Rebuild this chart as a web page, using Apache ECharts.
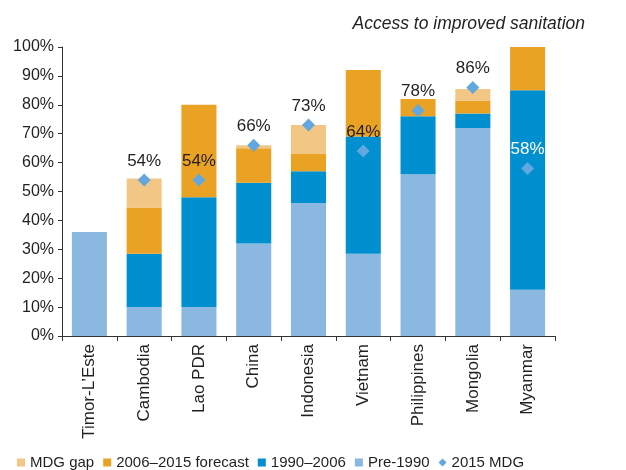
<!DOCTYPE html>
<html>
<head>
<meta charset="utf-8">
<script src="https://cdn.jsdelivr.net/npm/echarts@6/dist/echarts.min.js"></script>
<style>
  html, body { margin: 0; padding: 0; background: #fff; }
  #chart { width: 626px; height: 470px; }
</style>
</head>
<body>
<div id="chart"></div>
<script>
// Share of population with access to improved sanitation (%)
const countries = ['Timor-L\u2019Este', 'Cambodia', 'Lao PDR', 'China', 'Indonesia', 'Vietnam', 'Philippines', 'Mongolia', 'Myanmar'];
const pre1990   = [36, 10, 10, 32, 46, 28.5, 56, 72, 16];
const gain19902006 = [0, 18.5, 38, 21, 11, 40.5, 20, 5, 69];
const forecast20062015 = [0, 16, 32, 12, 6, 23, 6, 4.5, 15];
const mdgGap    = [0, 10, 0, 1, 10, 0, 0, 4, 0];
const mdgTarget = [null, 54, 54, 66, 73, 64, 78, 86, 58];
const yTicks = [0, 10, 20, 30, 40, 50, 60, 70, 80, 90, 100];

const FONT = 'Liberation Sans, Arial, sans-serif';
const TEXT = '#231f20';

const chart = echarts.init(document.getElementById('chart'), null, { renderer: 'canvas' });

const barBase = { type: 'bar', stack: 'access', barCategoryGap: '36%' };

chart.setOption({
  animation: false,
  textStyle: { fontFamily: FONT },
  title: {
    text: 'Access to improved sanitation',
    right: 36, top: 10,
    textStyle: { fontFamily: FONT, fontSize: 17.5, fontStyle: 'italic', fontWeight: 'normal', color: TEXT }
  },
  legend: {
    left: 12, top: 450,
    itemWidth: 8, itemHeight: 8, itemGap: 9,
    textStyle: { fontFamily: FONT, fontSize: 15, color: TEXT },
    data: [
      { name: 'MDG gap', icon: 'rect' },
      { name: '2006\u20132015 forecast', icon: 'rect' },
      { name: '1990\u20132006', icon: 'rect' },
      { name: 'Pre-1990', icon: 'rect' },
      { name: '2015 MDG', icon: 'diamond' }
    ]
  },
  grid: { left: 62, right: 71, top: 47, bottom: 134 },
  xAxis: {
    type: 'category',
    data: countries,
    axisLine: { lineStyle: { color: '#333', width: 1 } },
    axisTick: { show: true, length: 5, lineStyle: { color: '#333' } },
    axisLabel: { rotate: 90, fontSize: 17, color: TEXT, fontFamily: FONT, margin: 8 }
  },
  yAxis: {
    type: 'value',
    min: 0, max: 100, interval: 10,
    axisLine: { show: true, lineStyle: { color: '#333', width: 1 } },
    axisTick: { show: true, length: 4, lineStyle: { color: '#333' } },
    splitLine: { show: false },
    axisLabel: {
      fontSize: 16, color: TEXT, fontFamily: FONT, margin: 8,
      formatter: v => (yTicks.includes(v) ? v + '%' : '')
    }
  },
  series: [
    Object.assign({}, barBase, { name: 'Pre-1990', data: pre1990, itemStyle: { color: '#8bb8e1' } }),
    Object.assign({}, barBase, { name: '1990\u20132006', data: gain19902006, itemStyle: { color: '#008fcf' } }),
    Object.assign({}, barBase, { name: '2006\u20132015 forecast', data: forecast20062015, itemStyle: { color: '#e9a224' } }),
    Object.assign({}, barBase, { name: 'MDG gap', data: mdgGap, itemStyle: { color: '#f2c786' } }),
    {
      name: '2015 MDG',
      type: 'scatter',
      symbol: 'diamond',
      symbolSize: 13,
      z: 5,
      itemStyle: { color: '#62a7dd', opacity: 1 },
      data: mdgTarget.map((v, i) => ({
        value: v,
        label: i === 8 ? { color: '#ffffff' } : undefined
      })),
      label: {
        show: true,
        position: 'top',
        distance: 4,
        fontSize: 17,
        fontFamily: FONT,
        color: TEXT,
        opacity: 1,
        formatter: p => p.value + '%'
      }
    }
  ]
});
</script>
</body>
</html>
